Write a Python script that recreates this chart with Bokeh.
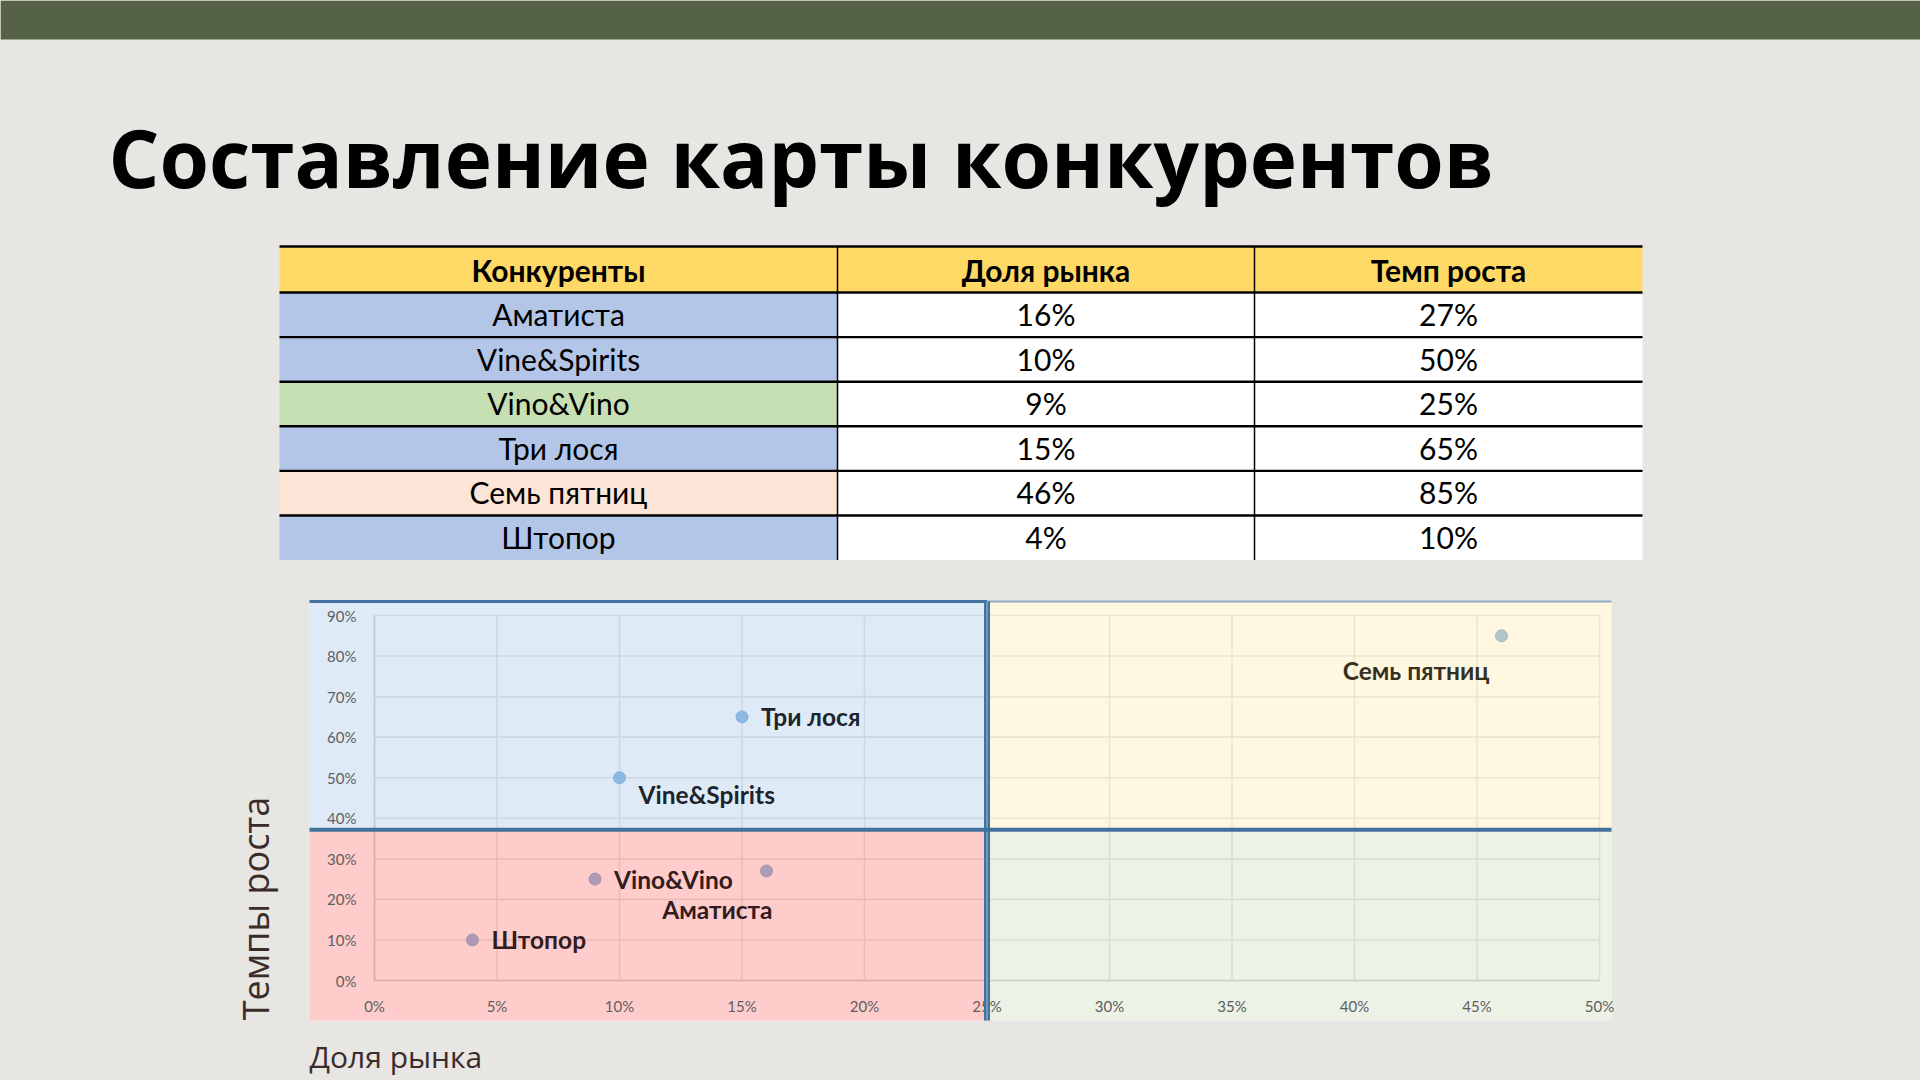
import math
from bokeh.plotting import figure
from bokeh.models import Range1d, ColumnDataSource
from bokeh.core.properties import value
from bokeh.embed import file_html
from bokeh.resources import INLINE

# ---------------- data ----------------
title_text = "Составление карты конкурентов"
table_headers = ["Конкуренты", "Доля рынка", "Темп роста"]
competitors = ["Аматиста", "Vine&Spirits", "Vino&Vino", "Три лося", "Семь пятниц", "Штопор"]
market_share = [0.16, 0.10, 0.09, 0.15, 0.46, 0.04]
growth_rate = [0.27, 0.50, 0.25, 0.65, 0.85, 0.10]
name_fill = ["#B4C6E7", "#B4C6E7", "#C6E0B4", "#B4C6E7", "#FCE4D6", "#B4C6E7"]
x_ticks = [0.0, 0.05, 0.10, 0.15, 0.20, 0.25, 0.30, 0.35, 0.40, 0.45, 0.50]
x_tick_labels = ["0%", "5%", "10%", "15%", "20%", "25%", "30%", "35%", "40%", "45%", "50%"]
y_ticks = [0.0, 0.1, 0.2, 0.3, 0.4, 0.5, 0.6, 0.7, 0.8, 0.9]
y_tick_labels = ["0%", "10%", "20%", "30%", "40%", "50%", "60%", "70%", "80%", "90%"]
x_title = "Доля рынка"
y_title = "Темпы роста"
X_SPLIT = 0.25
Y_SPLIT = 0.372

# ---------------- layout / style ----------------
W, H = 1920, 1080
BG = "#E7E6E2"
BAR = "#566246"
DARK_BLUE = "#41719C"

# label offsets (px) relative to each point: dx, dy(down), align, colour
lab_dx = [6, 19, 19, 19, -12, 19]
lab_dy = [38, 17, 0, 0, 35, 0]
lab_align = ["right", "left", "left", "left", "right", "left"]
lab_color = ["#331C1C", "#1E242C", "#331C1C", "#1E242C", "#35301F", "#331C1C"]

# chart pixel anchors
X0_PX, X1_PX = 374, 1599   # x = 0 and x = 0.5
Y0_PX, Y1_PX = 980, 615    # y = 0 and y = 0.9
sx = (X1_PX - X0_PX) / (x_ticks[-1] - x_ticks[0])
sy = (Y0_PX - Y1_PX) / (y_ticks[-1] - y_ticks[0])
CH_LEFT = x_ticks[0] - (X0_PX - 309) / sx
CH_RIGHT = x_ticks[-1] + (1611 - X1_PX) / sx
CH_BOTTOM = y_ticks[0] - (1020 - Y0_PX) / sy
CH_TOP = y_ticks[-1] + (Y1_PX - 601) / sy

p = figure(width=W, height=H, x_range=Range1d(0, W), y_range=Range1d(H, 0),
           output_backend="svg", toolbar_location=None, min_border=0,
           x_axis_location=None, y_axis_location=None,
           background_fill_color=BG, border_fill_color=BG, outline_line_color=None)
p.grid.visible = False
p.extra_x_ranges = {"cx": Range1d(-X0_PX / sx, (W - X0_PX) / sx)}
p.extra_y_ranges = {"cy": Range1d(-(H - Y0_PX) / sy, Y0_PX / sy)}
CR = dict(x_range_name="cx", y_range_name="cy")

# top bar
p.quad(left=[0], right=[W], top=[0], bottom=[39], fill_color=BAR, line_color=None)

# title
p.text(x=[108], y=[156], text=[title_text], text_font=value("Open Sans"),
       text_font_size=value("80px"), text_font_style="bold", text_color="#000000",
       text_align="left", text_baseline="middle")

# ---------------- table ----------------
col_edges = [279, 837, 1254, 1642]
row_top = 246
head_h = 46
row_h = 44.6
row_edges = [row_top, row_top + head_h] + [row_top + head_h + row_h * (i + 1) for i in range(len(competitors))]

p.quad(left=[col_edges[0]], right=[col_edges[-1]], top=[row_edges[0]], bottom=[row_edges[1]],
       fill_color="#FFD966", line_color=None)
p.quad(left=[col_edges[0]] * len(competitors), right=[col_edges[1]] * len(competitors),
       top=row_edges[1:-1], bottom=row_edges[2:], fill_color=name_fill, line_color=None)
p.quad(left=[col_edges[1]] * len(competitors), right=[col_edges[-1]] * len(competitors),
       top=row_edges[1:-1], bottom=row_edges[2:], fill_color="#FFFFFF", line_color=None)
p.segment(x0=[col_edges[0]] * (len(row_edges) - 1), x1=[col_edges[-1]] * (len(row_edges) - 1),
          y0=row_edges[:-1], y1=row_edges[:-1], line_color="#000000", line_width=2.4)
p.segment(x0=col_edges[1:3], x1=col_edges[1:3], y0=[row_edges[0]] * 2, y1=[row_edges[-1]] * 2,
          line_color="#000000", line_width=1.5)

col_centers = [(col_edges[i] + col_edges[i + 1]) / 2 for i in range(3)]
p.text(x=col_centers, y=[row_edges[0] + 23] * 3, text=table_headers, text_font=value("Lato"),
       text_font_size=value("30px"), text_font_style="bold", text_color="#000000",
       text_align="center", text_baseline="middle")
cell_x, cell_y, cell_t = [], [], []
for i, name in enumerate(competitors):
    ym = row_edges[i + 1] + 21.5
    cell_x += col_centers
    cell_y += [ym] * 3
    cell_t += [name, f"{round(market_share[i] * 100)}%", f"{round(growth_rate[i] * 100)}%"]
p.text(x=cell_x, y=cell_y, text=cell_t, text_font=value("Lato"), text_font_size=value("30px"),
       text_color="#000000", text_align="center", text_baseline="middle")

# ---------------- chart ----------------
p.quad(left=[CH_LEFT], right=[CH_RIGHT], top=[CH_TOP], bottom=[CH_BOTTOM],
       fill_color="#FFFFFF", line_color=None, **CR)
p.segment(x0=x_ticks, x1=x_ticks, y0=[y_ticks[0]] * len(x_ticks), y1=[y_ticks[-1]] * len(x_ticks),
          line_color="#D9D9D9", line_width=1.6, **CR)
p.segment(x0=[x_ticks[0]] * len(y_ticks), x1=[x_ticks[-1]] * len(y_ticks), y0=y_ticks, y1=y_ticks,
          line_color="#D9D9D9", line_width=1.6, **CR)
p.segment(x0=[x_ticks[0], x_ticks[0]], x1=[x_ticks[-1], x_ticks[0]], y0=[y_ticks[0], y_ticks[0]],
          y1=[y_ticks[0], y_ticks[-1]], line_color="#BFBFBF", line_width=1.6, **CR)

src = ColumnDataSource(dict(x=market_share, y=growth_rate, name=competitors,
                            dx=lab_dx, dy=lab_dy, align=lab_align, color=lab_color))
p.scatter("x", "y", source=src, size=12, fill_color="#5B9BD5", line_color="#4A86C2",
          line_width=1, **CR)

# quadrant overlays (semi-transparent)
p.quad(left=[CH_LEFT, CH_LEFT, X_SPLIT, X_SPLIT],
       right=[X_SPLIT, X_SPLIT, CH_RIGHT, CH_RIGHT],
       top=[CH_TOP, Y_SPLIT, CH_TOP, Y_SPLIT],
       bottom=[Y_SPLIT, CH_BOTTOM, Y_SPLIT, CH_BOTTOM],
       fill_color=["#BDD7EF", "#FF9999", "#FFEFC1", "#D9E5CD"], fill_alpha=0.5,
       line_color=None, **CR)

# tick labels
p.text(x=x_ticks, y=[y_ticks[0]] * len(x_ticks), text=x_tick_labels, y_offset=25,
       text_font=value("Lato"), text_font_size=value("15px"), text_color="#5E5E5E",
       text_align="center", text_baseline="middle", **CR)
p.text(x=[x_ticks[0]] * len(y_ticks), y=y_ticks, text=y_tick_labels, x_offset=-18,
       text_font=value("Lato"), text_font_size=value("15px"), text_color="#5E5E5E",
       text_align="right", text_baseline="middle", **CR)

# data labels
p.text("x", "y", text="name", source=src, x_offset="dx", y_offset="dy", text_align="align",
       text_baseline="middle", text_font=value("Lato"), text_font_size=value("24.5px"),
       text_font_style="bold", text_color="color", **CR)

# quadrant borders
p.segment(x0=[CH_LEFT], x1=[X_SPLIT], y0=[CH_TOP], y1=[CH_TOP], line_color=DARK_BLUE,
          line_width=3, **CR)
p.segment(x0=[X_SPLIT], x1=[CH_RIGHT], y0=[CH_TOP], y1=[CH_TOP], line_color="#8FAAC1",
          line_width=2, **CR)
p.segment(x0=[X_SPLIT], x1=[X_SPLIT], y0=[CH_BOTTOM], y1=[CH_TOP], line_color=DARK_BLUE,
          line_width=6, **CR)
p.segment(x0=[X_SPLIT], x1=[X_SPLIT], y0=[CH_BOTTOM], y1=[CH_TOP], line_color="#A9C0D6",
          line_width=1, **CR)
p.segment(x0=[CH_LEFT], x1=[CH_RIGHT], y0=[Y_SPLIT], y1=[Y_SPLIT], line_color=DARK_BLUE,
          line_width=4, **CR)

# axis titles
p.text(x=[255], y=[908], text=[y_title], angle=math.pi / 2, text_font=value("Open Sans"),
       text_font_size=value("36px"), text_color="#3B2C2A", text_align="center",
       text_baseline="middle")
p.text(x=[309], y=[1056], text=[x_title], text_font=value("Open Sans"),
       text_font_size=value("30px"), text_color="#3B2C2A", text_align="left",
       text_baseline="middle")

html = file_html(p, INLINE, title="Составление карты конкурентов")
html = html.replace("</head>",
                    "<style>html,body{margin:0;padding:0;overflow:hidden;background:#E7E6E2;}</style></head>", 1)
with open("out.html", "w", encoding="utf-8") as f:
    f.write(html)
